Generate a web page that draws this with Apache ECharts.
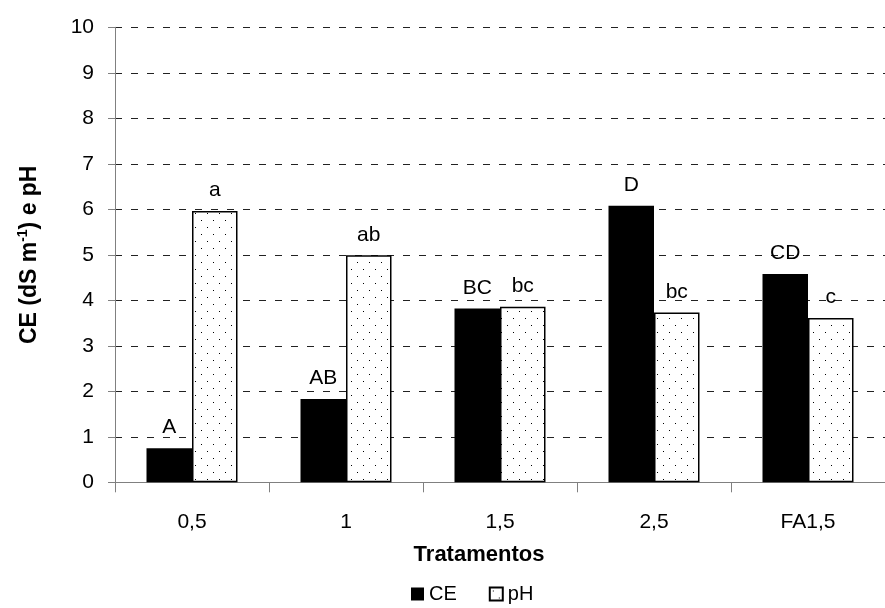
<!DOCTYPE html>
<html>
<head>
<meta charset="utf-8">
<script src="https://cdn.jsdelivr.net/npm/echarts@6/dist/echarts.min.js"></script>
<style>html,body{margin:0;padding:0;background:#fff}#c{width:885px;height:608px}</style>
</head>
<body>
<div id="c"></div>
<script>
const categories = ['0,5', '1', '1,5', '2,5', 'FA1,5'];
const ceValues = [0.75, 1.83, 3.82, 6.08, 4.58];
const phValues = [5.96, 4.99, 3.86, 3.73, 3.61];
const ceLetters = ['A', 'AB', 'BC', 'D', 'CD'];
const phLetters = ['a', 'ab', 'bc', 'bc', 'c'];
const yTicks = [0, 1, 2, 3, 4, 5, 6, 7, 8, 9, 10];

const FONT = '"Liberation Sans", Arial, sans-serif';

// dotted pattern
const pc = document.createElement('canvas');
pc.width = 12; pc.height = 14;
const g = pc.getContext('2d');
g.fillStyle = '#fff'; g.fillRect(0, 0, 12, 14);
g.fillStyle = '#000';
g.fillRect(3, 3, 1, 1);
g.fillRect(9, 10, 1, 1);
const dotted = { image: pc, repeat: 'repeat' };

const chart = echarts.init(document.getElementById('c'), null, { renderer: 'canvas' });
chart.setOption({
  animation: false,
  backgroundColor: '#fff',
  textStyle: { fontFamily: FONT },
  title: {
    text: 'Tratamentos',
    left: 474, top: 539,
    textAlign: 'center',
    textStyle: { fontFamily: FONT, fontSize: 22, fontWeight: 'bold', color: '#000' }
  },
  legend: {
    left: 406, top: 579,
    itemWidth: 13, itemHeight: 13, itemGap: 32,
    icon: 'rect',
    textStyle: { fontFamily: FONT, fontSize: 20, color: '#000', padding: [0, 0, 0, 0] },
    data: ['CE', 'pH']
  },
  grid: { left: 115, top: 27.3, width: 780, height: 455, containLabel: false },
  xAxis: {
    type: 'category',
    data: categories,
    axisLine: { lineStyle: { color: '#808080', width: 1 } },
    axisTick: { show: true, length: 10, lineStyle: { color: '#808080' } },
    axisLabel: { fontFamily: FONT, fontSize: 21, color: '#000', margin: 29 }
  },
  yAxis: {
    type: 'value',
    min: 0, max: 10, interval: 1,
    name: '{b|CE (dS m}{s|-1}{b|) e pH}',
    nameLocation: 'middle',
    nameGap: 72,
    nameTextStyle: {
      rich: {
        b: { fontFamily: FONT, fontSize: 23, fontWeight: 'bold', color: '#000', lineHeight: 27 },
        s: { fontFamily: FONT, fontSize: 14, fontWeight: 'bold', color: '#000', lineHeight: 15, verticalAlign: 'top' }
      }
    },
    axisLine: { show: true, lineStyle: { color: '#808080', width: 1 } },
    axisTick: { show: true, length: 7, lineStyle: { color: '#808080' } },
    axisLabel: { fontFamily: FONT, fontSize: 21, color: '#000', margin: 21,
      formatter: v => yTicks.includes(v) ? String(v) : '' },
    splitLine: { show: true, lineStyle: { color: '#222', type: [7, 9], width: 1 } }
  },
  series: [
    {
      name: 'CE', type: 'bar', data: ceValues,
      barWidth: 45.5, barGap: '0%',
      itemStyle: { color: '#000' },
      label: { show: true, position: 'top', distance: 10, fontFamily: FONT, fontSize: 21, color: '#000',
        formatter: p => ceLetters[p.dataIndex] }
    },
    {
      name: 'pH', type: 'bar', data: phValues,
      barWidth: 45.5, barGap: '0%',
      itemStyle: { color: dotted, borderColor: '#000', borderWidth: 1.5 },
      label: { show: true, position: 'top', distance: 10, fontFamily: FONT, fontSize: 21, color: '#000',
        formatter: p => phLetters[p.dataIndex] }
    }
  ]
});
</script>
</body>
</html>
